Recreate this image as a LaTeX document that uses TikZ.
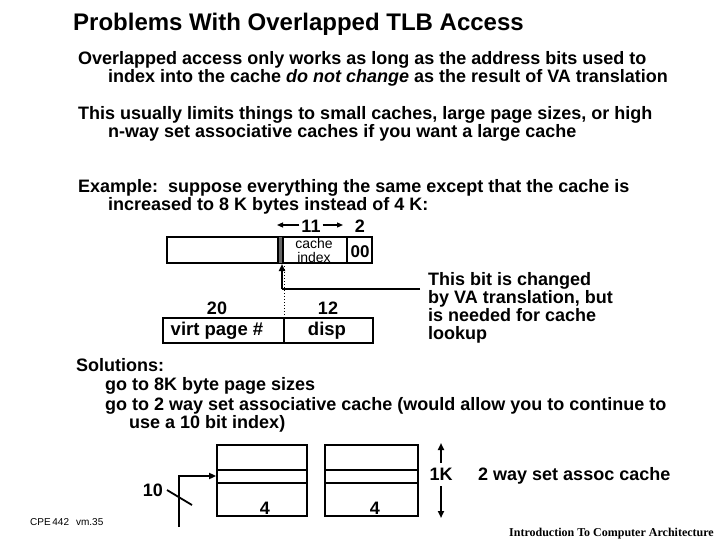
\documentclass[tikz,border=0pt]{standalone}
\usepackage{fontspec}
\setmainfont{Liberation Sans}
\newfontfamily\timesfont{Liberation Serif}
\usetikzlibrary{arrows.meta}
\begin{document}
\begin{tikzpicture}[x=1pt,y=-1pt,
  txt/.style={anchor=base west, inner sep=0pt, font=\fontsize{18}{20}\selectfont\bfseries},
  lbl/.style={inner sep=0pt, font=\fontsize{18}{20}\selectfont\bfseries},
  thick line/.style={line width=1.8pt},
  tip/.style={-{Triangle[length=7pt,width=6pt]}}]
\useasboundingbox (0,0) rectangle (720,540);
% title
\node[anchor=base west, inner sep=0pt, font=\fontsize{24}{26}\selectfont\bfseries] (title) at (73,31) {Problems With Overlapped TLB Access};
% paragraphs
\node[txt] (l1) at (78,65) {Overlapped access only works as long as the address bits used to};
\node[txt] (l2) at (108,83) {index into the cache \textit{do not change} as the result of VA translation};
\node[txt] (l3) at (78,120) {This usually limits things to small caches, large page sizes, or high};
\node[txt] (l4) at (108,138) {n-way set associative caches if you want a large cache};
\node[txt] (l5) at (78,193) {Example:\ \ suppose everything the same except that the cache is};
\node[txt] (l6) at (108,211) {increased to 8 K bytes instead of 4 K:};
% bit-width labels
\node[lbl] (n11) at (311,226) {11};
\node[lbl] (n2) at (360,226) {2};
\coordinate (a11l) at (277,225);
\coordinate (a11r) at (343,225);
\draw[line width=1.2pt, -{Triangle[length=6pt,width=5pt]}] (n11.west |- a11l) ++(-2,0) -- (a11l);
\draw[line width=1.2pt, -{Triangle[length=6pt,width=5pt]}] (n11.east |- a11r) ++(2,0) -- (a11r);
% physical address box
\node[draw, thick line, minimum width=205pt, minimum height=26pt, inner sep=0pt] (addr) at (269.5,250) {};
\fill[black!60] (278,237) rectangle (283,263);
\draw[thick line] (278,237) -- (278,263) (283,237) -- (283,263);
\draw[thick line] (347,237) -- (347,263);
\node[inner sep=0pt, font=\fontsize{14}{14}\selectfont] (c1) at (314,243) {cache};
\node[inner sep=0pt, font=\fontsize{14}{14}\selectfont] (c2) at (314,257.5) {index};
\node[inner sep=0pt, font=\fontsize{17}{17}\selectfont\bfseries] (zz) at (360,252) {00};
% virtual address box
\node[draw, thick line, minimum width=210pt, minimum height=25pt, inner sep=0pt] (vaddr) at (268,330.5) {};
\draw[thick line] (284,318) -- (284,343);
\node[lbl, font=\fontsize{18.5}{20}\selectfont\bfseries] (vpn) at (217,331) {virt page \#};
\node[lbl, font=\fontsize{18.5}{20}\selectfont\bfseries] (disp) at (327,331) {disp};
\node[lbl] (n20) at (217,308) {20};
\node[lbl] (n12) at (328,308) {12};
% arrow to the changed bit
\coordinate (corner) at (282,289);
\coordinate (lineend) at (420,289);
\coordinate (bittip) at (282,264);
\draw[thick line] (lineend) -- (corner);
\draw[thick line, tip] (corner) -- (bittip);
\draw[line width=1pt, dotted] (284,266) -- (284,318);
% note
\node[txt] (note1) at (428,285) {This bit is changed};
\node[txt] (note2) at (428,303) {by VA translation, but};
\node[txt] (note3) at (428,321) {is needed for cache};
\node[txt] (note4) at (428,339) {lookup};
% solutions
\node[txt] (s1) at (76,371) {Solutions:};
\node[txt] (s2) at (105,390) {go to 8K byte page sizes};
\node[txt] (s3) at (105,410) {go to 2 way set associative cache (would allow you to continue to};
\node[txt] (s4) at (129,428) {use a 10 bit index)};
% 2-way cache
\node[draw, thick line, minimum width=90pt, minimum height=71pt, inner sep=0pt] (way1) at (262,480.5) {};
\node[draw, thick line, minimum width=93pt, minimum height=71pt, inner sep=0pt] (way2) at (371.5,480.5) {};
\draw[thick line] (way1.west |- 0,470) -- (way1.east |- 0,470) (way1.west |- 0,483) -- (way1.east |- 0,483);
\draw[thick line] (way2.west |- 0,470) -- (way2.east |- 0,470) (way2.west |- 0,483) -- (way2.east |- 0,483);
\node[lbl] (w4a) at (265,508) {4};
\node[lbl] (w4b) at (375,508) {4};
\node[lbl] (oneK) at (441,474) {1K};
\coordinate (ktop) at (441,443);
\coordinate (kbot) at (441,518);
\draw[thick line, tip] (441,463) -- (ktop);
\draw[thick line, tip] (441,486) -- (kbot);
\node[anchor=base west, inner sep=0pt, font=\fontsize{18}{20}\selectfont\bfseries] (assoc) at (478,480) {2 way set assoc cache};
% index arrow
\coordinate (idxstart) at (179,527);
\coordinate (idxbend) at (179,476);
\draw[thick line, tip] (idxstart) -- (idxbend) -- (way1.west |- idxbend);
\draw[thick line] (167,490) -- (192,505);
\node[lbl] (n10) at (153,490) {10};
% footers
\node[anchor=base west, inner sep=0pt, font=\fontsize{10}{10}\selectfont] (cpe) at (30,525) {CPE\,442\hspace{7pt}vm.35};
\node[anchor=base west, inner sep=0pt, font=\timesfont\fontsize{12}{12}\selectfont\bfseries] (intro) at (509,536) {Introduction To Computer Architecture};
\end{tikzpicture}
\end{document}
